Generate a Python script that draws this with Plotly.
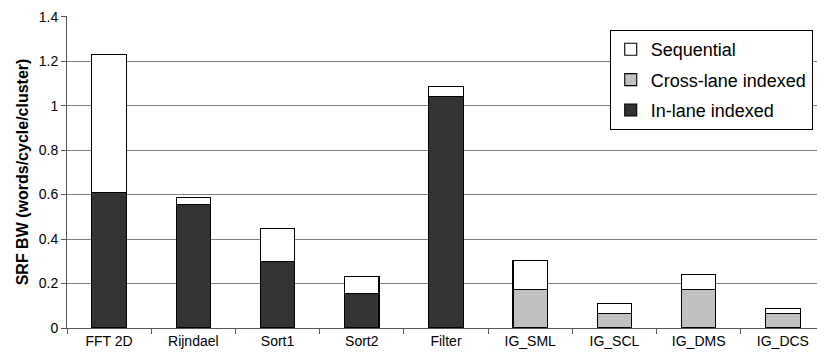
import plotly.graph_objects as go

# benchmark names along the x axis
categories = ["FFT 2D", "Rijndael", "Sort1", "Sort2", "Filter",
              "IG_SML", "IG_SCL", "IG_DMS", "IG_DCS"]

# SRF bandwidth per access type (words/cycle/cluster)
in_lane = [0.61, 0.555, 0.30, 0.155, 1.04, 0, 0, 0, 0]
cross_lane = [0, 0, 0, 0, 0, 0.175, 0.067, 0.173, 0.067]
sequential = [0.62, 0.032, 0.147, 0.078, 0.045, 0.127, 0.044, 0.067, 0.02]

# stacked bottom to top; legendrank puts Sequential first in the legend
series = [
    ("In-lane indexed", in_lane, "#333333", 3),
    ("Cross-lane indexed", cross_lane, "#c0c0c0", 2),
    ("Sequential", sequential, "#ffffff", 1),
]

fig = go.Figure()
for name, vals, color, rank in series:
    fig.add_trace(go.Bar(
        x=categories, y=vals, name=name, legendgroup=name, legendrank=rank,
        marker=dict(color=color, line=dict(color="#000000", width=1.1)),
    ))

# the page body adds an 8px margin, so the figure is trimmed to fit the window
fig.update_layout(
    barmode="stack",
    bargap=0.59,
    width=817, height=354,
    margin=dict(l=59, r=0, t=8, b=34),
    paper_bgcolor="white",
    plot_bgcolor="white",
    font=dict(family="Liberation Sans, Arial, sans-serif", color="#000000"),
    legend=dict(
        x=0.716, y=0.955, xanchor="left", yanchor="top",
        traceorder="grouped", tracegroupgap=4,
        bordercolor="#000000", borderwidth=1, bgcolor="white",
        font=dict(size=18),
        itemwidth=30,
    ),
    showlegend=True,
)

fig.update_xaxes(
    type="category",
    tickson="boundaries",
    ticks="outside", ticklen=5, tickcolor="#555555",
    showline=True, linecolor="#555555", linewidth=1,
    tickfont=dict(size=14),
    showgrid=False,
    automargin=False,
)
fig.update_yaxes(
    range=[0, 1.403], dtick=0.2,
    ticks="outside", ticklen=5, tickcolor="#555555",
    showline=True, linecolor="#555555", linewidth=1,
    showgrid=True, gridcolor="#808080", gridwidth=1,
    tickfont=dict(size=14),
    ticklabeloverflow="allow",
    zeroline=False,
    automargin=False,
    title=dict(text="<b>SRF BW (words/cycle/cluster)</b>", font=dict(size=16), standoff=6),
)

fig.write_html("out.html")
